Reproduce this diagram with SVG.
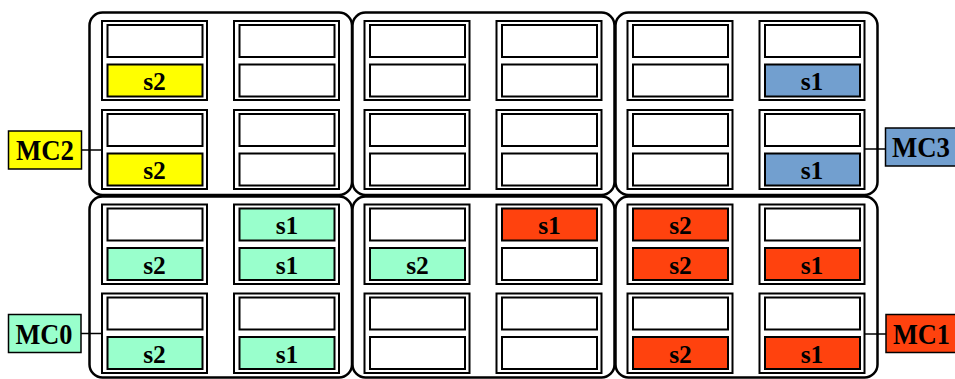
<svg xmlns="http://www.w3.org/2000/svg" width="955" height="379" viewBox="0 0 955 379">
<style>
.tile{fill:#fff;stroke:#000;stroke-width:2.5}
.core{fill:#fff;stroke:#000;stroke-width:2}
.in{fill:#fff;stroke:#000;stroke-width:2}
.y{fill:#ffff00}
.b{fill:#729fcf}
.g{fill:#99ffcc}
.r{fill:#ff420e}
.t{font-family:"Liberation Serif","Times New Roman",serif;font-weight:bold;font-size:25.5px;text-anchor:middle;fill:#000}
.mc{font-family:"Liberation Serif","Times New Roman",serif;font-weight:bold;font-size:30px;text-anchor:middle;fill:#000}
.mcbox{stroke:#000;stroke-width:1.5}
.ln{stroke:#000;stroke-width:1.5;fill:none}
</style>
<rect width="955" height="379" fill="#fff"/>
<g id="tiles">
<g id="tile-top-left">
<rect class="tile" x="89.5" y="12.5" width="262.5" height="182.5" rx="13"/>
<rect class="core" x="102" y="21" width="105" height="79"/>
<rect class="in" x="107.5" y="25" width="95" height="32"/>
<rect class="in y" x="107.5" y="64.5" width="95" height="32"/><text class="t" x="154.5" y="90">s2</text>
<rect class="core" x="234" y="21" width="105" height="79"/>
<rect class="in" x="239.5" y="25" width="95" height="32"/>
<rect class="in" x="239.5" y="64.5" width="95" height="32"/>
<rect class="core" x="102" y="110" width="105" height="79"/>
<rect class="in" x="107.5" y="114" width="95" height="32"/>
<rect class="in y" x="107.5" y="153.5" width="95" height="32"/><text class="t" x="154.5" y="179">s2</text>
<rect class="core" x="234" y="110" width="105" height="79"/>
<rect class="in" x="239.5" y="114" width="95" height="32"/>
<rect class="in" x="239.5" y="153.5" width="95" height="32"/>
</g>
<g id="tile-top-middle">
<rect class="tile" x="352.5" y="12.5" width="262" height="182.5" rx="13"/>
<rect class="core" x="364.5" y="21" width="105" height="79"/>
<rect class="in" x="370" y="25" width="95" height="32"/>
<rect class="in" x="370" y="64.5" width="95" height="32"/>
<rect class="core" x="496.5" y="21" width="105" height="79"/>
<rect class="in" x="502" y="25" width="95" height="32"/>
<rect class="in" x="502" y="64.5" width="95" height="32"/>
<rect class="core" x="364.5" y="110" width="105" height="79"/>
<rect class="in" x="370" y="114" width="95" height="32"/>
<rect class="in" x="370" y="153.5" width="95" height="32"/>
<rect class="core" x="496.5" y="110" width="105" height="79"/>
<rect class="in" x="502" y="114" width="95" height="32"/>
<rect class="in" x="502" y="153.5" width="95" height="32"/>
</g>
<g id="tile-top-right">
<rect class="tile" x="615.5" y="12.5" width="262" height="182.5" rx="13"/>
<rect class="core" x="627.5" y="21" width="105" height="79"/>
<rect class="in" x="633" y="25" width="95" height="32"/>
<rect class="in" x="633" y="64.5" width="95" height="32"/>
<rect class="core" x="759.5" y="21" width="105" height="79"/>
<rect class="in" x="765" y="25" width="95" height="32"/>
<rect class="in b" x="765" y="64.5" width="95" height="32"/><text class="t" x="812" y="90">s1</text>
<rect class="core" x="627.5" y="110" width="105" height="79"/>
<rect class="in" x="633" y="114" width="95" height="32"/>
<rect class="in" x="633" y="153.5" width="95" height="32"/>
<rect class="core" x="759.5" y="110" width="105" height="79"/>
<rect class="in" x="765" y="114" width="95" height="32"/>
<rect class="in b" x="765" y="153.5" width="95" height="32"/><text class="t" x="812" y="179">s1</text>
</g>
<g id="tile-bottom-left">
<rect class="tile" x="89.5" y="196.5" width="262.5" height="181" rx="13"/>
<rect class="core" x="102" y="204.5" width="105" height="79.5"/>
<rect class="in" x="107.5" y="208.5" width="95" height="32"/>
<rect class="in g" x="107.5" y="248" width="95" height="32"/><text class="t" x="154.5" y="273.5">s2</text>
<rect class="core" x="234" y="204.5" width="105" height="79.5"/>
<rect class="in g" x="239.5" y="208.5" width="95" height="32"/><text class="t" x="287" y="234">s1</text>
<rect class="in g" x="239.5" y="248" width="95" height="32"/><text class="t" x="287" y="273.5">s1</text>
<rect class="core" x="102" y="293.5" width="105" height="79.5"/>
<rect class="in" x="107.5" y="297.5" width="95" height="32"/>
<rect class="in g" x="107.5" y="337" width="95" height="32"/><text class="t" x="154.5" y="362.5">s2</text>
<rect class="core" x="234" y="293.5" width="105" height="79.5"/>
<rect class="in" x="239.5" y="297.5" width="95" height="32"/>
<rect class="in g" x="239.5" y="337" width="95" height="32"/><text class="t" x="287" y="362.5">s1</text>
</g>
<g id="tile-bottom-middle">
<rect class="tile" x="352.5" y="196.5" width="262" height="181" rx="13"/>
<rect class="core" x="364.5" y="204.5" width="105" height="79.5"/>
<rect class="in" x="370" y="208.5" width="95" height="32"/>
<rect class="in g" x="370" y="248" width="95" height="32"/><text class="t" x="417.5" y="273.5">s2</text>
<rect class="core" x="496.5" y="204.5" width="105" height="79.5"/>
<rect class="in r" x="502" y="208.5" width="95" height="32"/><text class="t" x="549.5" y="234">s1</text>
<rect class="in" x="502" y="248" width="95" height="32"/>
<rect class="core" x="364.5" y="293.5" width="105" height="79.5"/>
<rect class="in" x="370" y="297.5" width="95" height="32"/>
<rect class="in" x="370" y="337" width="95" height="32"/>
<rect class="core" x="496.5" y="293.5" width="105" height="79.5"/>
<rect class="in" x="502" y="297.5" width="95" height="32"/>
<rect class="in" x="502" y="337" width="95" height="32"/>
</g>
<g id="tile-bottom-right">
<rect class="tile" x="615.5" y="196.5" width="262" height="181" rx="13"/>
<rect class="core" x="627.5" y="204.5" width="105" height="79.5"/>
<rect class="in r" x="633" y="208.5" width="95" height="32"/><text class="t" x="680.5" y="234">s2</text>
<rect class="in r" x="633" y="248" width="95" height="32"/><text class="t" x="680.5" y="273.5">s2</text>
<rect class="core" x="759.5" y="204.5" width="105" height="79.5"/>
<rect class="in" x="765" y="208.5" width="95" height="32"/>
<rect class="in r" x="765" y="248" width="95" height="32"/><text class="t" x="812" y="273.5">s1</text>
<rect class="core" x="627.5" y="293.5" width="105" height="79.5"/>
<rect class="in" x="633" y="297.5" width="95" height="32"/>
<rect class="in r" x="633" y="337" width="95" height="32"/><text class="t" x="680.5" y="362.5">s2</text>
<rect class="core" x="759.5" y="293.5" width="105" height="79.5"/>
<rect class="in" x="765" y="297.5" width="95" height="32"/>
<rect class="in r" x="765" y="337" width="95" height="32"/><text class="t" x="812" y="362.5">s1</text>
</g>
</g>
<g id="connectors">
<line class="ln" x1="81.5" y1="150" x2="102" y2="150"/>
<line class="ln" x1="81" y1="333.5" x2="102" y2="333.5"/>
<line class="ln" x1="864.5" y1="149" x2="885.5" y2="149"/>
<line class="ln" x1="864.5" y1="334" x2="886" y2="334"/>
</g>
<g id="MC2"><rect class="mcbox y" x="8.5" y="131" width="73" height="38"/><text class="mc" x="45" y="159.5" textLength="58" lengthAdjust="spacingAndGlyphs">MC2</text></g>
<g id="MC0"><rect class="mcbox g" x="8.5" y="314.5" width="72.5" height="38"/><text class="mc" x="44" y="343.5" textLength="57" lengthAdjust="spacingAndGlyphs">MC0</text></g>
<g id="MC3"><rect class="mcbox b" x="885.5" y="128" width="74" height="38"/><text class="mc" x="921" y="157" textLength="58" lengthAdjust="spacingAndGlyphs">MC3</text></g>
<g id="MC1"><rect class="mcbox r" x="886" y="314.5" width="74" height="38"/><text class="mc" x="921.5" y="343.5" textLength="57" lengthAdjust="spacingAndGlyphs">MC1</text></g>
</svg>
